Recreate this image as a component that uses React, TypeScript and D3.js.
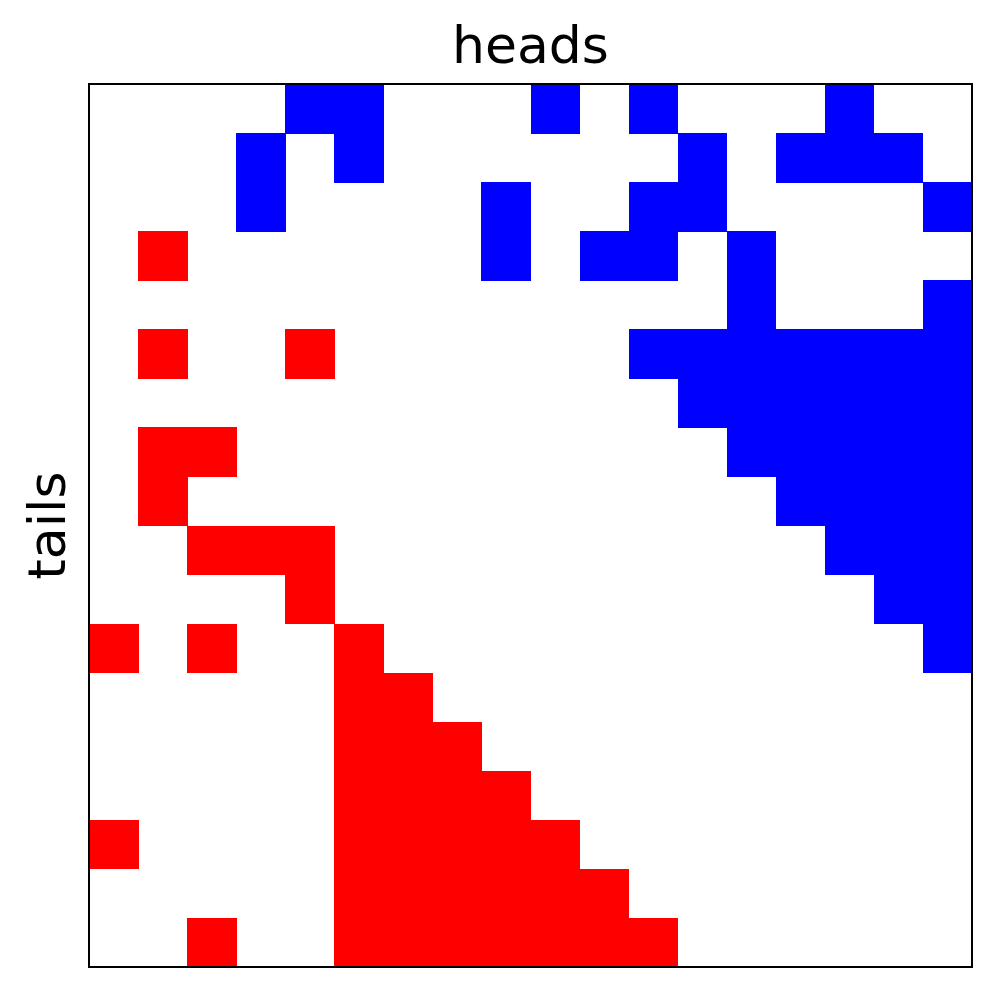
import { useEffect, useRef } from 'react';
import * as d3 from 'd3';

// 18x18 grid, row index from top, list of filled column indices per row
const nCells = 18;
const blueRows: number[][] = [
  [4, 5, 9, 11, 15],
  [3, 5, 12, 14, 15, 16],
  [3, 8, 11, 12, 17],
  [8, 10, 11, 13],
  [13, 17],
  [11, 12, 13, 14, 15, 16, 17],
  [12, 13, 14, 15, 16, 17],
  [13, 14, 15, 16, 17],
  [14, 15, 16, 17],
  [15, 16, 17],
  [16, 17],
  [17],
  [], [], [], [], [], [],
];
const redRows: number[][] = [
  [], [], [],
  [1],
  [],
  [1, 4],
  [],
  [1, 2],
  [1],
  [2, 3, 4],
  [4],
  [0, 2, 5],
  [5, 6],
  [5, 6, 7],
  [5, 6, 7, 8],
  [0, 5, 6, 7, 8, 9],
  [5, 6, 7, 8, 9, 10],
  [2, 5, 6, 7, 8, 9, 10, 11],
];
const titleText = 'heads';
const yLabel = 'tails';

const App = () => {
  const ref = useRef<SVGSVGElement>(null);

  useEffect(() => {
    document.body.style.margin = '0';
    const svg = d3.select(ref.current);
    svg.selectAll('*').remove();

    const margin = { top: 84, left: 89 };
    const size = 883;
    const idx = d3.range(nCells);
    const x = d3.scaleBand<number>().domain(idx).range([0, size]);
    const y = d3.scaleBand<number>().domain(idx).range([0, size]);

    const g = svg.append('g').attr('transform', `translate(${margin.left},${margin.top})`);

    const cells: { r: number; c: number; color: string }[] = [];
    blueRows.forEach((cols, r) => cols.forEach(c => cells.push({ r, c, color: '#0000ff' })));
    redRows.forEach((cols, r) => cols.forEach(c => cells.push({ r, c, color: '#ff0000' })));

    g.selectAll('rect.cell').data(cells)
      .enter().append('rect')
      .attr('class', 'cell')
      .attr('x', d => x(d.c)!)
      .attr('y', d => y(d.r)!)
      .attr('width', x.bandwidth() + 0.5)
      .attr('height', y.bandwidth() + 0.5)
      .attr('fill', d => d.color)
      .attr('shape-rendering', 'crispEdges');

    // frame
    g.append('rect')
      .attr('x', 0).attr('y', 0)
      .attr('width', size).attr('height', size)
      .attr('fill', 'none')
      .attr('stroke', 'black')
      .attr('stroke-width', 2);

    g.append('text').text(titleText)
      .attr('x', size / 2).attr('y', -21)
      .attr('text-anchor', 'middle')
      .style('font-family', 'DejaVu Sans')
      .style('font-size', '52px')
      .attr('fill', 'black');

    g.append('text').text(yLabel)
      .attr('transform', `translate(-24,${size / 2}) rotate(-90)`)
      .attr('text-anchor', 'middle')
      .style('font-family', 'DejaVu Sans')
      .style('font-size', '52px')
      .attr('fill', 'black');
  }, []);

  return (
    <div>
      <svg ref={ref} width={997} height={992} style={{ display: 'block', background: 'white' }} />
    </div>
  );
};

export default App;
